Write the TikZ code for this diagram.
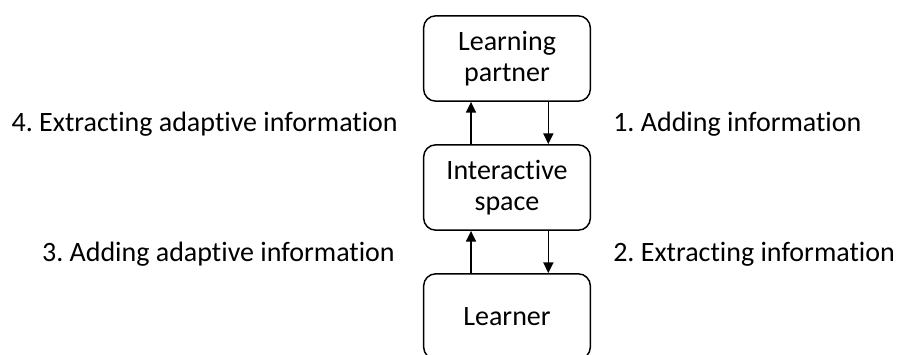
\documentclass[tikz,border=0pt]{standalone}
\usepackage{fontspec}
\setmainfont[Ligatures=NoCommon]{Carlito}
\usetikzlibrary{arrows.meta}
\frenchspacing
\begin{document}
\begin{tikzpicture}[x=0.75pt,y=-0.75pt,>={Triangle[length=8pt,width=7.5pt]}]
        \tikzstyle{stage}=[rectangle,rounded corners=9pt,draw=black,line width=1.1pt,minimum width=125pt,minimum height=64pt,align=center,font=\fontsize{21}{23}\selectfont]
        \tikzstyle{flow}=[draw,->,line width=1.1pt]
        \tikzstyle{caption}=[inner sep=0pt,font=\fontsize{21}{24}\selectfont]
        \useasboundingbox (0,0) rectangle (898,354);
        \clip (0,0) rectangle (898,354);
       \begin{scope}
         \node [stage] (partner) at (507,58.5) {Learning\\partner};
         \node [stage] (space) at (507,187.5) {Interactive\\space};
         \node [stage] (learner) at (507,316.5) {Learner};
         \path[flow] ([xshift=-27pt]space.north) -- ([xshift=-27pt]partner.south);
         \path[flow] ([xshift=31pt]partner.south) -- ([xshift=31pt]space.north);
         \path[flow] ([xshift=-27pt]learner.north) -- ([xshift=-27pt]space.south);
         \path[flow] ([xshift=31pt]space.south) -- ([xshift=31pt]learner.north);
         \node [caption,anchor=base west] (add) at (613,131) {1. Adding information};
         \node [caption,anchor=base west] (extract) at (613,261) {2. Extracting information};
         \node [caption,anchor=base east] (addadapt) at (395,261) {3. Adding adaptive information};
         \node [caption,anchor=base east] (extractadapt) at (398,131) {4. Extracting adaptive information};
        \end{scope}
      \end{tikzpicture}
\end{document}
